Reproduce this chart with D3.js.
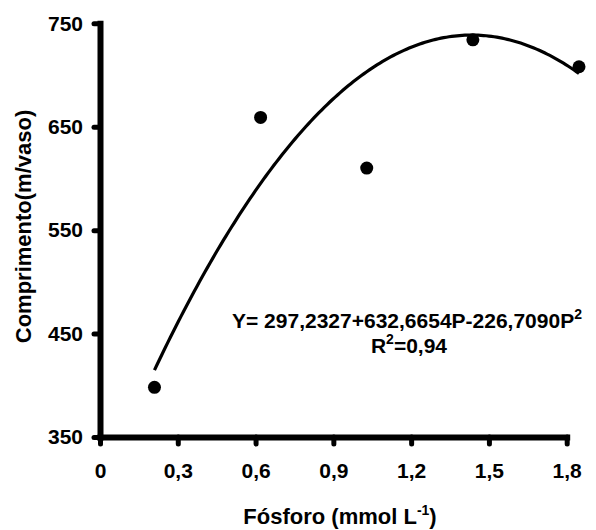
<!DOCTYPE html>
<html>
<head>
<meta charset="utf-8">
<script src="https://cdn.jsdelivr.net/npm/d3@7"></script>
<style>
  html, body { margin: 0; padding: 0; background: #fff; }
  svg { display: block; font-family: "Liberation Sans", Arial, Helvetica, sans-serif; font-weight: bold; }
</style>
</head>
<body>
<svg id="chart" width="596" height="530"></svg>
<script>
// Phosphorus dose (mmol L-1) and measured length (m/vaso)
const fosforo = [0.2, 0.6, 1.0, 1.4, 1.8];
const comprimento = [398, 659, 610, 734, 708];

// Fitted quadratic: Y = b0 + b1*P + b2*P^2
const coefs = [297.2327, 632.6654, -226.7090];
const r2Label = "0,94";

// Axis ticks
const xTicks = [0, 0.3, 0.6, 0.9, 1.2, 1.5, 1.8];
const xTickLabels = ["0", "0,3", "0,6", "0,9", "1,2", "1,5", "1,8"];
const yTicks = [350, 450, 550, 650, 750];

const svg = d3.select("#chart");

const xAxisScale = d3.scaleLinear().domain([0, 1.8]).range([100, 566.7]);
const xPlot = d3.scaleLinear().domain([0, 1.8]).range([101.4, 579]);
const y = d3.scaleLinear().domain([350, 750]).range([437, 23.3]);

// Fitted curve over the observed range
const fit = p => coefs[0] + coefs[1] * p + coefs[2] * p * p;
const curvePts = d3.range(0, 161).map(i => 0.2 + i * 0.01).map(p => [p, fit(p)]);

svg.append("path")
  .datum(curvePts)
  .attr("fill", "none")
  .attr("stroke", "#000")
  .attr("stroke-width", 3.2)
  .attr("d", d3.line().x(d => xPlot(d[0])).y(d => y(d[1])));

svg.selectAll("circle.obs")
  .data(fosforo.map((p, i) => [p, comprimento[i]]))
  .join("circle")
  .attr("class", "obs")
  .attr("cx", d => xPlot(d[0]))
  .attr("cy", d => y(d[1]))
  .attr("r", 6.5)
  .attr("fill", "#000");

// Y axis
const yAxis = svg.append("g")
  .attr("transform", `translate(${xAxisScale(0)},0)`)
  .call(d3.axisLeft(y).tickValues(yTicks).tickSize(6).tickSizeOuter(0).tickPadding(11).tickFormat(d3.format("d")));

// X axis
const xAxis = svg.append("g")
  .attr("transform", `translate(0,${y(350)})`)
  .call(d3.axisBottom(xAxisScale).tickValues(xTicks).tickSize(7).tickSizeOuter(0).tickPadding(19)
    .tickFormat((d, i) => xTickLabels[i]));

[yAxis, xAxis].forEach(g => {
  g.attr("font-family", null).attr("font-size", null);
  g.select(".domain").attr("stroke", "#000").attr("stroke-width", 6).attr("stroke-linecap", "square");
  g.selectAll(".tick line").attr("stroke", "#000").attr("stroke-width", 5).attr("stroke-linecap", "round");
  g.selectAll(".tick text").attr("fill", "#000").style("font-size", "21px").style("font-weight", "bold");
});

// Axis titles
const xTitle = svg.append("text")
  .attr("x", 340).attr("y", 524)
  .attr("text-anchor", "middle")
  .style("font-size", "22px");
xTitle.append("tspan").text("Fósforo (mmol L");
xTitle.append("tspan").attr("dy", -9).style("font-size", "14px").text("-1");
xTitle.append("tspan").attr("dy", 9).text(")");

svg.append("text")
  .attr("transform", "translate(31,226.5) rotate(-90)")
  .attr("text-anchor", "middle")
  .style("font-size", "22px")
  .text("Comprimento(m/vaso)");

// Regression equation and R²
const fmt = v => Math.abs(v).toFixed(4).replace(".", ",");
const eq = svg.append("text")
  .attr("x", 407).attr("y", 328)
  .attr("text-anchor", "middle")
  .style("font-size", "21px");
eq.append("tspan").text(`Y= ${fmt(coefs[0])}+${fmt(coefs[1])}P-${fmt(coefs[2])}P`);
eq.append("tspan").attr("dy", -9).style("font-size", "14px").text("2");

const r2 = svg.append("text")
  .attr("x", 409).attr("y", 353)
  .attr("text-anchor", "middle")
  .style("font-size", "21px");
r2.append("tspan").text("R");
r2.append("tspan").attr("dy", -9).style("font-size", "14px").text("2");
r2.append("tspan").attr("dy", 9).text("=" + r2Label);
</script>
</body>
</html>
